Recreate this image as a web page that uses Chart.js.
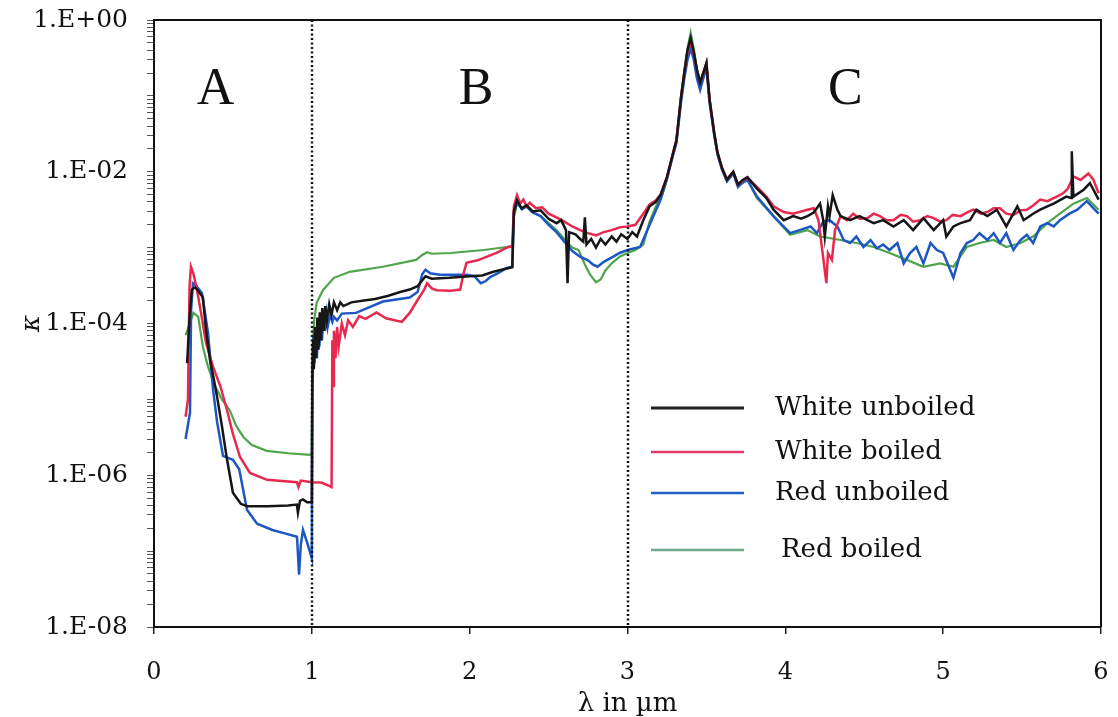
<!DOCTYPE html>
<html>
<head>
<meta charset="utf-8">
<script src="https://cdn.jsdelivr.net/npm/chart.js@4/dist/chart.umd.min.js"></script>
<style>
  html, body { margin: 0; padding: 0; background: #fff; }
  #wrap { width: 1118px; height: 717px; }
</style>
</head>
<body>
<div id="wrap"><canvas id="kappaChart" width="1118" height="717"></canvas></div>
<script>
// extinction coefficient kappa vs wavelength (um), four samples
const whiteUnboiled = [
  [0.21, 3.0e-5], [0.225, 1.2e-4], [0.24, 2.8e-4], [0.26, 3.0e-4], [0.28, 2.7e-4], [0.31, 2.2e-4],
  [0.33, 8e-5], [0.355, 3.3e-5], [0.38, 1.8e-5], [0.40, 1.07e-5], [0.43, 4.5e-6], [0.46, 1.74e-6],
  [0.50, 5.9e-7], [0.55, 4.2e-7], [0.59, 3.9e-7], [0.72, 3.9e-7], [0.85, 4.0e-7], [0.905, 4.1e-7],
  [0.912, 3.2e-7], [0.925, 4.6e-7], [0.944, 4.8e-7], [0.97, 4.4e-7], [1.0, 4.4e-7],
  [1.003, 1.5e-5], [1.008, 6e-5], [1.013, 2.5e-5], [1.02, 9e-5], [1.027, 3.5e-5], [1.035, 1.2e-4],
  [1.042, 4.5e-5], [1.05, 1.4e-4], [1.058, 6e-5], [1.066, 1.6e-4], [1.075, 8e-5], [1.085, 1.7e-4],
  [1.095, 1.1e-4], [1.11, 1.8e-4], [1.125, 1.3e-4], [1.14, 1.9e-4], [1.16, 1.5e-4], [1.18, 1.9e-4],
  [1.20, 1.7e-4], [1.25, 1.9e-4], [1.32, 2.0e-4], [1.40, 2.1e-4], [1.48, 2.3e-4], [1.56, 2.6e-4],
  [1.62, 2.8e-4], [1.67, 3.1e-4], [1.72, 4.2e-4], [1.76, 3.9e-4], [1.87, 4.0e-4], [2.00, 4.2e-4],
  [2.08, 4.3e-4], [2.15, 4.8e-4], [2.235, 5.3e-4], [2.27, 5.5e-4],
  [2.28, 3.0e-3], [2.30, 4.2e-3], [2.33, 3.3e-3], [2.36, 3.6e-3], [2.40, 3.0e-3], [2.45, 3.1e-3],
  [2.50, 2.4e-3], [2.55, 2.1e-3], [2.58, 2.3e-3], [2.61, 1.7e-3], [2.62, 3.4e-4], [2.63, 1.6e-3],
  [2.67, 1.5e-3], [2.70, 1.3e-3], [2.72, 1.2e-3], [2.73, 2.5e-3], [2.74, 1.1e-3], [2.77, 1.3e-3],
  [2.80, 1.0e-3], [2.83, 1.3e-3], [2.86, 1.1e-3], [2.90, 1.4e-3], [2.93, 1.2e-3], [2.96, 1.5e-3],
  [3.00, 1.3e-3], [3.03, 1.6e-3], [3.06, 1.4e-3], [3.10, 2.3e-3], [3.14, 3.5e-3],
  [3.18, 4.0e-3], [3.21, 5.0e-3], [3.25, 8.5e-3], [3.29, 1.8e-2], [3.31, 2.6e-2], [3.34, 0.1],
  [3.36, 0.2], [3.38, 0.4], [3.40, 0.58], [3.42, 0.38], [3.44, 0.22], [3.46, 0.15], [3.48, 0.2],
  [3.50, 0.27], [3.52, 0.09], [3.55, 0.032], [3.57, 0.018], [3.60, 0.011], [3.63, 7.9e-3],
  [3.67, 1.0e-2], [3.70, 6.8e-3], [3.73, 7.8e-3],
  [3.76, 8.5e-3], [3.82, 6.0e-3], [3.88, 4.5e-3], [3.925, 3.16e-3], [3.99, 2.3e-3], [4.05, 2.6e-3],
  [4.10, 2.4e-3], [4.14, 2.6e-3], [4.18, 2.9e-3], [4.22, 3.8e-3], [4.24, 2.3e-3], [4.25, 1.4e-3],
  [4.27, 3.5e-3], [4.28, 2.6e-3], [4.30, 4.9e-3], [4.33, 3.16e-3], [4.35, 2.6e-3], [4.41, 2.3e-3],
  [4.47, 2.6e-3], [4.52, 2.3e-3], [4.56, 2.1e-3], [4.62, 2.3e-3], [4.685, 1.9e-3], [4.75, 2.3e-3],
  [4.81, 1.7e-3], [4.875, 2.45e-3], [4.94, 1.7e-3], [5.00, 2.3e-3], [5.02, 1.4e-3], [5.065, 1.9e-3],
  [5.11, 2.1e-3], [5.17, 2.3e-3], [5.21, 3.16e-3], [5.28, 2.6e-3], [5.34, 3.16e-3], [5.40, 1.9e-3],
  [5.47, 3.5e-3], [5.51, 2.3e-3], [5.57, 2.8e-3], [5.615, 3.16e-3], [5.66, 3.5e-3], [5.70, 3.8e-3],
  [5.78, 4.7e-3], [5.81, 4.5e-3], [5.815, 1.86e-2], [5.825, 4.7e-3], [5.89, 5.8e-3], [5.93, 7.1e-3],
  [5.985, 4.3e-3]
];

const whiteBoiled = [
  [0.20, 5.9e-6], [0.215, 1.0e-5], [0.225, 3e-4], [0.234, 5.6e-4], [0.25, 4.5e-4], [0.272, 2.8e-4],
  [0.30, 1.3e-4], [0.33, 5.5e-5], [0.374, 2.7e-5], [0.42, 1.5e-5], [0.463, 7.2e-6], [0.50, 3.5e-6],
  [0.545, 1.74e-6], [0.608, 1.07e-6], [0.716, 8.7e-7], [0.906, 8.1e-7], [0.915, 7.0e-7], [0.93, 8.5e-7],
  [1.0, 8.1e-7], [1.06, 8.0e-7], [1.12, 7.1e-7], [1.125, 7.0e-7],
  [1.13, 6e-5], [1.135, 1.5e-5], [1.14, 8e-5], [1.15, 3.5e-5], [1.16, 9e-5], [1.17, 5e-5],
  [1.19, 1.0e-4], [1.21, 7e-5], [1.23, 1.1e-4], [1.26, 9e-5], [1.30, 1.25e-4], [1.34, 1.15e-4],
  [1.41, 1.4e-4], [1.47, 1.17e-4], [1.57, 1.05e-4], [1.62, 1.38e-4], [1.68, 2.2e-4], [1.71, 2.75e-4],
  [1.73, 3.4e-4], [1.76, 2.9e-4], [1.79, 2.75e-4], [1.88, 2.7e-4], [1.94, 2.8e-4], [1.96, 4.5e-4],
  [1.98, 6.3e-4], [2.05, 6.8e-4], [2.11, 7.6e-4], [2.17, 8.5e-4], [2.235, 1.0e-3], [2.27, 1.05e-3],
  [2.28, 3.5e-3], [2.30, 4.9e-3], [2.32, 3.8e-3], [2.34, 4.3e-3], [2.36, 3.5e-3], [2.38, 3.9e-3],
  [2.42, 3.3e-3], [2.46, 3.4e-3], [2.50, 2.8e-3], [2.55, 2.5e-3], [2.60, 2.2e-3], [2.65, 1.9e-3],
  [2.70, 1.7e-3], [2.75, 1.55e-3], [2.80, 1.45e-3], [2.85, 1.6e-3], [2.90, 1.7e-3], [2.95, 1.85e-3],
  [3.00, 1.9e-3], [3.05, 2.0e-3], [3.10, 2.8e-3], [3.14, 3.7e-3],
  [3.18, 4.2e-3], [3.21, 5.0e-3], [3.25, 8.5e-3], [3.29, 1.8e-2], [3.31, 2.6e-2], [3.34, 0.1],
  [3.36, 0.2], [3.38, 0.38], [3.40, 0.5], [3.42, 0.36], [3.44, 0.22], [3.46, 0.15], [3.48, 0.2],
  [3.50, 0.27], [3.52, 0.09], [3.55, 0.032], [3.57, 0.018], [3.60, 0.011], [3.63, 7.9e-3],
  [3.67, 1.0e-2], [3.70, 6.8e-3], [3.73, 7.6e-3],
  [3.76, 8.3e-3], [3.82, 6.3e-3], [3.88, 4.7e-3], [3.925, 3.5e-3], [3.99, 2.95e-3], [4.05, 2.8e-3],
  [4.14, 3.16e-3], [4.18, 3.3e-3], [4.21, 2.3e-3], [4.26, 3.4e-4], [4.27, 8.5e-4], [4.295, 6.9e-4],
  [4.315, 1.7e-3], [4.35, 2.6e-3], [4.39, 2.3e-3], [4.43, 2.8e-3], [4.47, 2.4e-3], [4.52, 2.45e-3],
  [4.56, 2.8e-3], [4.60, 2.6e-3], [4.64, 2.3e-3], [4.685, 2.3e-3], [4.73, 2.7e-3], [4.77, 2.6e-3],
  [4.81, 2.2e-3], [4.855, 2.3e-3], [4.90, 2.6e-3], [4.94, 2.45e-3], [4.98, 2.2e-3], [5.02, 2.3e-3],
  [5.06, 2.7e-3], [5.11, 2.6e-3], [5.15, 2.9e-3], [5.19, 3.16e-3], [5.24, 2.8e-3], [5.28, 2.95e-3],
  [5.32, 3.3e-3], [5.36, 3.3e-3], [5.40, 2.8e-3], [5.445, 2.7e-3], [5.49, 3.1e-3], [5.53, 3.16e-3],
  [5.57, 3.6e-3], [5.615, 4.3e-3], [5.66, 4.1e-3], [5.70, 4.5e-3], [5.76, 5.2e-3], [5.79, 6.0e-3],
  [5.825, 8.7e-3], [5.87, 7.8e-3], [5.92, 9.5e-3], [5.95, 8.0e-3], [5.985, 5.2e-3]
];

const redUnboiled = [
  [0.20, 3.0e-6], [0.228, 6.6e-6], [0.235, 1.5e-4], [0.247, 3.4e-4], [0.265, 3.2e-4], [0.304, 2.5e-4],
  [0.342, 7.6e-5], [0.374, 1.35e-5], [0.40, 5e-6], [0.437, 1.8e-6], [0.50, 1.6e-6], [0.54, 1.2e-6],
  [0.589, 3.5e-7], [0.653, 2.3e-7], [0.75, 1.9e-7], [0.817, 1.74e-7], [0.906, 1.55e-7], [0.919, 4.9e-8],
  [0.93, 1.2e-7], [0.944, 1.9e-7], [0.97, 1.3e-7], [1.0, 8e-8],
  [1.003, 2.5e-5], [1.01, 7e-5], [1.017, 3e-5], [1.025, 9e-5], [1.032, 3.5e-5], [1.04, 1.1e-4],
  [1.048, 5e-5], [1.056, 1.2e-4], [1.064, 6e-5], [1.073, 1.3e-4], [1.082, 8e-5], [1.092, 1.3e-4],
  [1.10, 9e-5], [1.115, 1.3e-4], [1.13, 1.05e-4], [1.14, 1.23e-4], [1.16, 1.1e-4], [1.19, 1.35e-4],
  [1.28, 1.38e-4], [1.45, 1.95e-4], [1.62, 2.2e-4], [1.67, 2.6e-4], [1.70, 4.5e-4], [1.72, 5.1e-4],
  [1.75, 4.6e-4], [1.81, 4.4e-4], [1.98, 4.4e-4], [2.03, 4.2e-4], [2.07, 3.4e-4], [2.10, 3.6e-4],
  [2.13, 4.1e-4], [2.18, 4.6e-4], [2.235, 5.4e-4], [2.27, 5.6e-4],
  [2.28, 2.8e-3], [2.30, 4.0e-3], [2.33, 3.2e-3], [2.36, 3.5e-3], [2.40, 2.9e-3], [2.45, 2.6e-3],
  [2.50, 2.0e-3], [2.55, 1.6e-3], [2.60, 1.2e-3], [2.65, 9.0e-4], [2.70, 7.6e-4], [2.75, 6.8e-4],
  [2.78, 6.0e-4], [2.81, 5.6e-4], [2.85, 6.5e-4], [2.91, 7.6e-4], [2.95, 8.5e-4], [3.00, 9.3e-4],
  [3.08, 1.02e-3], [3.12, 1.6e-3], [3.16, 2.5e-3], [3.21, 4.3e-3], [3.25, 8.0e-3], [3.29, 1.7e-2],
  [3.31, 2.4e-2], [3.34, 0.085], [3.36, 0.17], [3.38, 0.3], [3.40, 0.42], [3.42, 0.3], [3.44, 0.17],
  [3.46, 0.12], [3.48, 0.17], [3.50, 0.24], [3.52, 0.08], [3.55, 0.03], [3.57, 0.017], [3.60, 0.0105],
  [3.63, 7.5e-3], [3.67, 9.5e-3], [3.70, 6.3e-3], [3.73, 7.2e-3], [3.76, 7.8e-3],
  [3.82, 4.7e-3], [3.925, 2.6e-3], [4.03, 1.55e-3], [4.09, 1.7e-3], [4.16, 1.9e-3], [4.20, 1.55e-3],
  [4.24, 2.2e-3], [4.28, 2.3e-3], [4.33, 1.9e-3], [4.37, 1.26e-3], [4.41, 1.15e-3], [4.45, 1.4e-3],
  [4.495, 1.02e-3], [4.54, 1.26e-3], [4.58, 9.8e-4], [4.62, 1.1e-3], [4.66, 9.3e-4], [4.71, 1.15e-3],
  [4.75, 6.2e-4], [4.79, 8.5e-4], [4.83, 1.02e-3], [4.875, 6.2e-4], [4.92, 1.15e-3], [4.96, 9.3e-4],
  [5.00, 8.5e-4], [5.065, 4.0e-4], [5.11, 8.5e-4], [5.15, 1.15e-3], [5.19, 1.26e-3], [5.23, 1.55e-3],
  [5.28, 1.26e-3], [5.32, 1.55e-3], [5.36, 1.15e-3], [5.40, 1.55e-3], [5.445, 9.3e-4], [5.49, 1.26e-3],
  [5.53, 1.48e-3], [5.57, 1.15e-3], [5.615, 1.9e-3], [5.66, 2.1e-3], [5.70, 1.9e-3], [5.74, 2.3e-3],
  [5.80, 2.8e-3], [5.85, 3.16e-3], [5.91, 4.1e-3], [5.985, 2.8e-3]
];

const redBoiled = [
  [0.20, 7e-5], [0.25, 1.38e-4], [0.28, 1.23e-4], [0.31, 4.9e-5], [0.34, 2.8e-5], [0.376, 1.66e-5],
  [0.43, 1.0e-5], [0.48, 7.2e-6], [0.52, 4.5e-6], [0.566, 3.2e-6], [0.62, 2.5e-6], [0.714, 2.1e-6],
  [0.85, 1.95e-6], [0.99, 1.86e-6], [1.0, 1.9e-6],
  [1.003, 2e-5], [1.008, 6e-5], [1.015, 1.1e-4], [1.03, 1.86e-4], [1.07, 2.75e-4], [1.14, 4.0e-4],
  [1.24, 4.8e-4], [1.45, 5.6e-4], [1.66, 6.9e-4], [1.70, 8.0e-4], [1.73, 8.7e-4], [1.76, 8.3e-4],
  [1.88, 8.5e-4], [2.09, 9.3e-4], [2.235, 1.02e-3], [2.27, 1.05e-3],
  [2.28, 2.5e-3], [2.30, 3.8e-3], [2.33, 3.3e-3], [2.36, 3.5e-3], [2.40, 2.9e-3], [2.45, 2.6e-3],
  [2.50, 2.1e-3], [2.55, 1.7e-3], [2.60, 1.3e-3], [2.65, 1.0e-3], [2.69, 9.3e-4], [2.73, 6.0e-4],
  [2.76, 4.5e-4], [2.80, 3.5e-4], [2.83, 3.8e-4], [2.86, 5.0e-4], [2.90, 6.2e-4], [2.95, 7.6e-4],
  [3.00, 8.5e-4], [3.05, 9.3e-4], [3.10, 1.1e-3], [3.14, 2.2e-3], [3.18, 3.5e-3], [3.22, 5.0e-3],
  [3.25, 8.2e-3], [3.29, 1.8e-2], [3.31, 2.6e-2], [3.34, 0.1], [3.36, 0.22], [3.38, 0.42], [3.40, 0.68],
  [3.42, 0.42], [3.44, 0.22], [3.46, 0.15], [3.48, 0.2], [3.50, 0.27], [3.52, 0.085], [3.55, 0.03],
  [3.57, 0.017], [3.60, 0.0105], [3.63, 7.5e-3], [3.67, 9.5e-3], [3.70, 6.5e-3], [3.73, 7.2e-3],
  [3.76, 7.8e-3],
  [3.82, 4.5e-3], [3.925, 2.6e-3], [4.03, 1.48e-3], [4.14, 1.7e-3], [4.22, 1.4e-3], [4.35, 1.26e-3],
  [4.45, 1.15e-3], [4.56, 1.02e-3], [4.66, 8.5e-4], [4.77, 6.9e-4], [4.875, 5.6e-4], [4.98, 6.2e-4],
  [5.065, 5.6e-4], [5.15, 1.02e-3], [5.23, 1.15e-3], [5.32, 1.26e-3], [5.40, 1.02e-3], [5.49, 1.15e-3],
  [5.57, 1.4e-3], [5.66, 2.1e-3], [5.74, 2.8e-3], [5.825, 3.8e-3], [5.91, 4.5e-3], [5.985, 3.16e-3]
];

const seriesNames = ['White unboiled', 'White boiled', 'Red unboiled', 'Red boiled'];
const regionNames = ['A', 'B', 'C'];
const regionCentres = [0.39, 2.04, 4.38];   // wavelength under each region letter
const regionEdges = [1, 3];                 // dotted separators
const xTicks = [0, 1, 2, 3, 4, 5, 6];

const colours = ['#161616', '#e8284f', '#1d57c4', '#4ea64a'];
const legendColours = ['#222222', '#e23a67', '#2260c8', '#6fa889'];

const serif = '"DejaVu Serif", "Liberation Serif", serif';

function sciLabel(v) {
  const e = Math.round(Math.log10(v));
  if (Math.abs(Math.log10(v) - e) > 1e-6 || e % 2 !== 0) return '';
  return '1.E' + (e < 0 ? '-' : '+') + String(Math.abs(e)).padStart(2, '0');
}

// frame, dotted separators, region letters and the key
const decorations = {
  id: 'decorations',
  afterDatasetsDraw(chart) {
    const { ctx, chartArea: a, scales: { x, y } } = chart;
    ctx.save();

    ctx.strokeStyle = '#111';
    ctx.lineWidth = 2.5;
    ctx.setLineDash([2, 2.5]);
    regionEdges.forEach(v => {
      const px = Math.round(x.getPixelForValue(v));
      ctx.beginPath();
      ctx.moveTo(px, a.top);
      ctx.lineTo(px, a.bottom);
      ctx.stroke();
    });
    ctx.setLineDash([]);

    ctx.lineWidth = 2;
    ctx.beginPath();
    ctx.moveTo(a.left, a.top);
    ctx.lineTo(a.right, a.top);
    ctx.lineTo(a.right, a.bottom);
    ctx.stroke();

    ctx.fillStyle = '#111';
    ctx.font = '52px "Liberation Serif", serif';
    ctx.textAlign = 'center';
    ctx.textBaseline = 'middle';
    regionNames.forEach((n, i) => {
      ctx.fillText(n, x.getPixelForValue(regionCentres[i]), y.getPixelForValue(0.125) + 2);
    });

    // key
    const rows = [408, 452, 493, 550];
    ctx.font = '26px ' + serif;
    ctx.textAlign = 'left';
    seriesNames.forEach((n, i) => {
      ctx.strokeStyle = legendColours[i];
      ctx.lineWidth = i === 0 ? 3 : 2.5;
      ctx.beginPath();
      ctx.moveTo(651, rows[i]);
      ctx.lineTo(744, rows[i]);
      ctx.stroke();
      ctx.fillStyle = '#111';
      ctx.fillText(n, i === 3 ? 781 : 775, rows[i]);
    });
    ctx.restore();
  }
};

const datasets = [whiteUnboiled, whiteBoiled, redUnboiled, redBoiled].map((d, i) => ({
  label: seriesNames[i],
  data: d,
  borderColor: colours[i],
  borderWidth: i === 3 ? 2.2 : 2.5,
  pointRadius: 0,
  tension: 0,
  fill: false
}));

new Chart(document.getElementById('kappaChart'), {
  type: 'line',
  data: { datasets },
  plugins: [decorations],
  options: {
    responsive: false,
    animation: false,
    layout: { padding: { left: 10, right: 17, top: 20, bottom: 0 } },
    plugins: { legend: { display: false }, tooltip: { enabled: false } },
    scales: {
      x: {
        type: 'linear',
        min: 0,
        max: 6,
        afterBuildTicks: s => { s.ticks = xTicks.map(v => ({ value: v })); },
        afterFit: s => {
          s.height = 90;
          s.paddingLeft = 0;
          s.paddingRight = 0;
        },
        grid: { drawOnChartArea: false, drawTicks: true, tickLength: 7, color: '#222', lineWidth: 1.5 },
        border: { display: true, color: '#111', width: 2 },
        ticks: { color: '#111', font: { family: serif, size: 24 }, padding: 24, maxRotation: 0 },
        title: {
          display: true,
          text: 'λ in µm',
          color: '#111',
          font: { family: serif, size: 26, lineHeight: 1 },
          padding: { top: 0, bottom: 0 }
        }
      },
      y: {
        type: 'logarithmic',
        min: 1e-8,
        max: 1,
        afterBuildTicks: s => {
          const t = [];
          for (let e = -8; e < 0; e++) {
            for (let m = 1; m < 10; m++) t.push({ value: m * Math.pow(10, e) });
          }
          t.push({ value: 1 });
          s.ticks = t;
        },
        afterFit: s => {
          s.width = 144;
          s.paddingTop = 0;
          s.paddingBottom = 0;
        },
        grid: { drawOnChartArea: false, drawTicks: true, tickLength: 7, color: '#555', lineWidth: 1 },
        border: { display: true, color: '#111', width: 2 },
        ticks: {
          autoSkip: false,
          color: '#111',
          font: { family: serif, size: 25 },
          padding: 19,
          callback: v => sciLabel(v)
        },
        title: {
          display: true,
          text: 'κ',
          color: '#111',
          font: { family: serif, size: 26, style: 'italic' },
          padding: { top: 7, bottom: 0 }
        }
      }
    }
  }
});
</script>
</body>
</html>
